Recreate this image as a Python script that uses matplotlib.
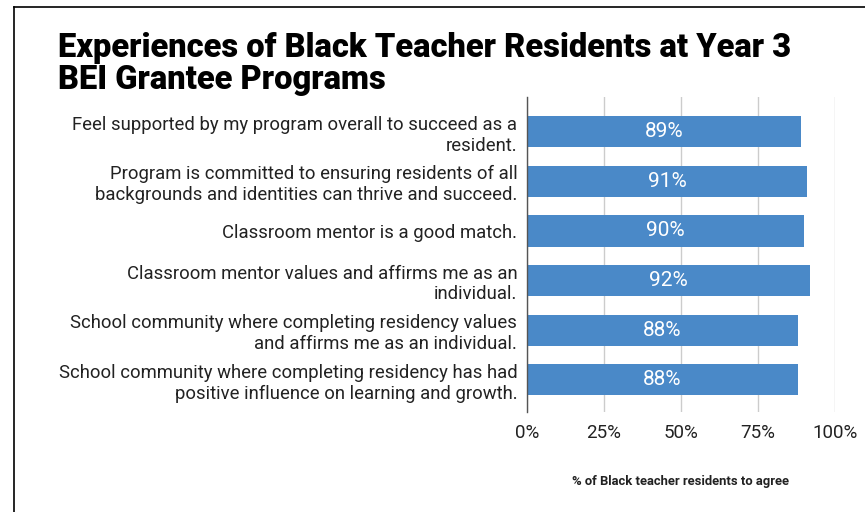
import matplotlib
matplotlib.use("Agg")
import matplotlib.pyplot as plt
from matplotlib.lines import Line2D
from matplotlib.ticker import FuncFormatter

categories = [
    "Feel supported by my program overall to succeed as a\nresident.",
    "Program is committed to ensuring residents of all\nbackgrounds and identities can thrive and succeed.",
    "Classroom mentor is a good match.",
    "Classroom mentor values and affirms me as an\nindividual.",
    "School community where completing residency values\nand affirms me as an individual.",
    "School community where completing residency has had\npositive influence on learning and growth.",
]
values = [89, 91, 90, 92, 88, 88]
x_ticks = [0, 25, 50, 75, 100]

title = "Experiences of Black Teacher Residents at Year 3\nBEI Grantee Programs"
x_label = "% of Black teacher residents to agree"

W, H = 865, 512
fig = plt.figure(figsize=(W / 100, H / 100), dpi=100)
fig.patch.set_facecolor("white")

ax = fig.add_axes([527 / W, 1 - 412 / H, (835 - 527) / W, (412 - 97) / H])
ypos = list(range(len(categories)))
ax.barh(ypos, values, height=0.63, color="#4a89c8", zorder=3)
for y, v in zip(ypos, values):
    ax.text(v / 2, y, f"{v}%", ha="center", va="center", color="white",
            fontsize=15, family="Roboto", zorder=4)

ax.set_xlim(0, 100)
ax.set_ylim(5.65, -0.7)
ax.set_xticks(x_ticks)
ax.xaxis.set_major_formatter(FuncFormatter(lambda v, p: f"{v:.0f}%"))
ax.set_yticks(ypos)
ax.set_yticklabels(categories, family="Roboto", fontsize=13.3, color="#222222",
                   linespacing=1.2)
for lbl in ax.get_xticklabels():
    lbl.set_family("Roboto")
    lbl.set_fontsize(13.5)
    lbl.set_color("#222222")
ax.tick_params(axis="both", length=0)
ax.tick_params(axis="y", pad=7)
ax.tick_params(axis="x", pad=9)
ax.grid(axis="x", color="#cccccc", linewidth=1, zorder=0)
for s in ["top", "right", "bottom"]:
    ax.spines[s].set_visible(False)
ax.spines["left"].set_color("#555555")
ax.spines["left"].set_linewidth(1)
ax.spines["left"].set_zorder(5)

fig.text(681 / W, 1 - 482 / H, x_label, ha="center", va="center",
         family="Roboto", fontweight="bold", fontsize=9.4, color="#222222")

fig.text(58 / W, 1 - 32 / H, title, ha="left", va="top", family="Roboto",
         fontweight="black", fontsize=23.5, color="black", linespacing=1.0)

fig.add_artist(Line2D([14 / W, 14 / W], [0, 1 - 7 / H], color="black", lw=1.2))
fig.add_artist(Line2D([14 / W, 1], [1 - 7 / H, 1 - 7 / H], color="black", lw=1.2))

fig.savefig("out.png", dpi=100, facecolor="white")
